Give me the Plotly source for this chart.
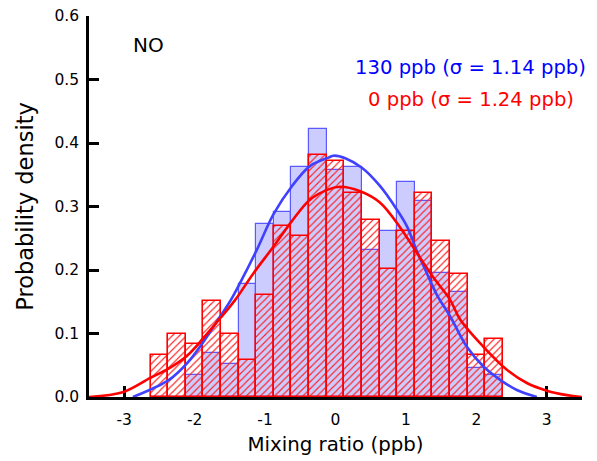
import plotly.graph_objects as go

# ---- data ----
bin_centers = [-2.5, -2.25, -2.0, -1.75, -1.5, -1.25, -1.0, -0.75, -0.5, -0.25,
               0.0, 0.25, 0.5, 0.75, 1.0, 1.25, 1.5, 1.75, 2.0, 2.25]
bin_width = 0.25
density_130ppb = [0.0, 0.0, 0.034, 0.070, 0.052, 0.178, 0.273, 0.291, 0.363, 0.422,
                  0.357, 0.363, 0.231, 0.261, 0.339, 0.309, 0.195, 0.165, 0.046, 0.034]
density_0ppb = [0.066, 0.100, 0.083, 0.151, 0.100, 0.058, 0.161, 0.270, 0.253, 0.381,
                0.372, 0.322, 0.279, 0.202, 0.262, 0.321, 0.245, 0.194, 0.066, 0.092]

fit_130_x = [-2.876, -2.365, -2.109, -1.874, -1.637, -1.485, -1.353, -1.116, -0.880,
             -0.619, -0.359, -0.099, -0.028, 0.138, 0.375, 0.634, 0.872, 1.013, 1.155,
             1.297, 1.439, 1.628, 1.865, 2.101, 2.338, 2.575, 2.859]
fit_130_y = [0.0, 0.027, 0.053, 0.087, 0.127, 0.153, 0.180, 0.232, 0.288,
             0.332, 0.364, 0.377, 0.380, 0.376, 0.361, 0.332, 0.295, 0.269, 0.230,
             0.195, 0.161, 0.127, 0.079, 0.048, 0.027, 0.011, 0.0]

fit_0_x = [-3.5, -3.009, -2.630, -2.365, -2.109, -1.874, -1.637, -1.424, -1.164, -0.880,
           -0.619, -0.359, -0.099, 0.067, 0.351, 0.634, 0.918, 1.155, 1.391, 1.628,
           1.770, 2.101, 2.433, 2.717, 3.001, 3.285, 3.497]
fit_0_y = [0.0, 0.008, 0.030, 0.045, 0.065, 0.093, 0.124, 0.153, 0.195, 0.237,
           0.277, 0.311, 0.327, 0.331, 0.324, 0.306, 0.267, 0.227, 0.188, 0.153,
           0.122, 0.079, 0.043, 0.022, 0.010, 0.003, 0.0]

x_ticks = [-3, -2, -1, 0, 1, 2, 3]
y_ticks = [0.0, 0.1, 0.2, 0.3, 0.4, 0.5, 0.6]
y_tick_labels = ["0.0", "0.1", "0.2", "0.3", "0.4", "0.5", "0.6"]

FONT = "DejaVu Sans"
L, R, T, B = 89, 15, 16, 64
PW, PH = 597 - L - R, 461 - T - B

fig = go.Figure()

fig.add_trace(go.Bar(
    x=bin_centers, y=density_130ppb, width=bin_width,
    marker=dict(color="#ccccff", line=dict(color="#5a5aff", width=1.2)),
    showlegend=False,
))
fig.add_trace(go.Bar(
    x=bin_centers, y=density_0ppb, width=bin_width,
    marker=dict(color="rgba(0,0,0,0)",
                pattern=dict(shape="/", fgcolor="#ff2020", bgcolor="rgba(0,0,0,0)",
                             size=5, solidity=0.22, fillmode="replace"),
                line=dict(color="#ff0000", width=1.6)),
    showlegend=False,
))
fig.add_trace(go.Scatter(
    x=fit_130_x, y=fit_130_y, mode="lines", line_shape="spline",
    line=dict(color="#4040ff", width=2.6), cliponaxis=False, showlegend=False,
))
fig.add_trace(go.Scatter(
    x=fit_0_x, y=fit_0_y, mode="lines", line_shape="spline",
    line=dict(color="#ff0000", width=2.6), cliponaxis=False, showlegend=False,
))

fig.update_layout(
    width=597, height=461,
    margin=dict(l=L, r=R, t=T, b=B, autoexpand=False),
    paper_bgcolor="white", plot_bgcolor="white",
    barmode="overlay", bargap=0,
    font=dict(family=FONT, size=15.5, color="black"),
    xaxis=dict(
        range=[-3.5, 3.5], tickvals=x_ticks, ticktext=[str(v) for v in x_ticks],
        ticks="inside", ticklen=11, tickwidth=2.5, tickcolor="black",
        showline=True, linecolor="black", linewidth=2.5, showgrid=False, zeroline=False,
        layer="below traces", ticklabelstandoff=7, automargin=False,
        title=dict(text="Mixing ratio (ppb)", font=dict(size=19.8), standoff=9),
    ),
    yaxis=dict(
        range=[0, 0.6], tickvals=y_ticks, ticktext=y_tick_labels,
        ticks="inside", ticklen=10, tickwidth=2.5, tickcolor="black",
        showline=True, linecolor="black", linewidth=2.5, showgrid=False, zeroline=False,
        layer="below traces", ticklabelstandoff=4, automargin=False,
        title=dict(text="Probability density", font=dict(size=22.5), standoff=15),
    ),
    annotations=[
        dict(text="NO", xref="paper", yref="paper", x=(148 - L) / PW, y=(397 - 45) / PH,
             showarrow=False, font=dict(size=20, color="black"), xanchor="center", yanchor="middle"),
        dict(text="130 ppb (σ = 1.14 ppb)", xref="paper", yref="paper",
             x=(470 - L) / PW, y=(397 - 67) / PH, showarrow=False,
             font=dict(size=19.6, color="#0000ff"), xanchor="center", yanchor="middle"),
        dict(text="0 ppb (σ = 1.24 ppb)", xref="paper", yref="paper",
             x=(471 - L) / PW, y=(397 - 99) / PH, showarrow=False,
             font=dict(size=19.6, color="#ff0000"), xanchor="center", yanchor="middle"),
    ],
)

fig.write_html("out.html", config={"displayModeBar": False},
               post_script="document.body.style.margin='0';")
